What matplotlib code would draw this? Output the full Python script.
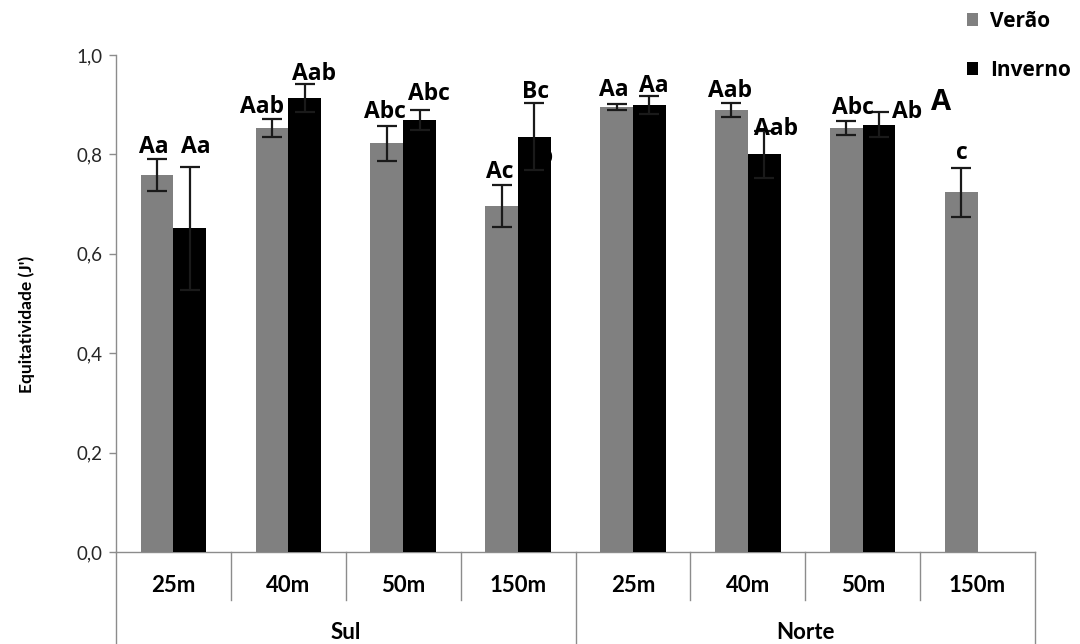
import numpy as np
import matplotlib
matplotlib.use("Agg")
import matplotlib.pyplot as plt

# ----------------------------------------------------------
# Equitatividade (J') por profundidade, regiao e estacao
# ----------------------------------------------------------

depths = ["25m", "40m", "50m", "150m", "25m", "40m", "50m", "150m"]
regions = ["Sul", "Norte"]

verao = [0.759, 0.854, 0.822, 0.696, 0.895, 0.889, 0.854, 0.724]
verao_err = [0.032, 0.018, 0.035, 0.043, 0.006, 0.014, 0.014, 0.049]

# Norte 150m has no winter sample
inverno = [0.651, 0.913, 0.869, 0.836, 0.900, 0.800, 0.860]
inverno_err = [0.123, 0.028, 0.020, 0.068, 0.018, 0.048, 0.025]

verao_letters = ["Aa", "Aab", "Abc", "Ac", "Aa", "Aab", "Abc", "c"]
inverno_letters = ["Aa", "Aab", "Abc", "Bc", "Aa", "Aab", "Ab"]

# nudges (pixels) so the letters do not collide
verao_dx = [-3, -10, -2, -2, -3, -1, 7, 1]
verao_dy = [6, 6, 8, 7, 8, 6, 7, 9]
inverno_dx = [6, 9, 9, 1, 5, 12, 28]
inverno_dy = [14, 4, 10, 5, 4, -4, -6]

GRAY = "#808080"
AXIS = "#8c8c8c"
width = 0.285

fig = plt.figure(figsize=(10.8, 6.44), dpi=100)
ax = fig.add_axes([116 / 1080, 1 - 552 / 644, (1035 - 116) / 1080, 497 / 644])

x = np.arange(len(depths))
xi = np.arange(len(inverno))

b1 = ax.bar(x - width / 2, verao, width, color=GRAY, label="Verão", zorder=3)
b2 = ax.bar(xi + width / 2, inverno, width, color="black", label="Inverno", zorder=3)

err_kw = dict(fmt="none", ecolor="#1a1a1a", elinewidth=1.6, capsize=7.5, capthick=1.6, zorder=4)
ax.errorbar(x - width / 2, verao, yerr=verao_err, **err_kw)
ax.errorbar(xi + width / 2, inverno, yerr=inverno_err, **err_kw)

# significance letters
ann_font = dict(family="Open Sans", weight="bold", size=16.5)
for i in range(len(verao)):
    ax.annotate(verao_letters[i], (x[i] - width / 2, verao[i] + verao_err[i]),
                xytext=(verao_dx[i], verao_dy[i]), textcoords="offset pixels",
                ha="center", va="baseline", zorder=5, annotation_clip=False, **ann_font)
for i in range(len(inverno)):
    ax.annotate(inverno_letters[i], (xi[i] + width / 2, inverno[i] + inverno_err[i]),
                xytext=(inverno_dx[i], inverno_dy[i]), textcoords="offset pixels",
                ha="center", va="baseline", zorder=5, annotation_clip=False, **ann_font)

# leftover labels from the original layout
ax.text(3.308, 0.783, "Ab", ha="right", va="baseline", zorder=1, **ann_font)
ax.text(6.68, 0.889, "A", ha="center", va="baseline", family="Open Sans",
        weight="bold", size=21, zorder=5)

# axes styling
ax.set_xlim(-0.5, len(depths) - 0.5)
ax.set_ylim(0, 1.0)
ax.set_yticks(np.arange(0, 1.01, 0.2))
ax.set_yticklabels([f"{v:.1f}".replace(".", ",") for v in np.arange(0, 1.01, 0.2)],
                   family="Lato", size=13.5, color="#262626")
ax.tick_params(axis="y", direction="out", length=5, width=1, color=AXIS, pad=5)
ax.tick_params(axis="x", length=0, labelbottom=False)
for s in ["top", "right"]:
    ax.spines[s].set_visible(False)
for s in ["left", "bottom"]:
    ax.spines[s].set_color(AXIS)
    ax.spines[s].set_linewidth(1)

ax.set_ylabel("Equitatividade (J')", family="Lato", weight="bold", size=12.5)
ax.yaxis.set_label_coords(-(116 - 35) / 919, 0.457)

# two-level category axis
tr = ax.get_xaxis_transform()
for b in np.arange(-0.5, len(depths), 1.0):
    outer = b in (-0.5, 3.5, len(depths) - 0.5)
    ax.plot([b, b], [0, -0.19 if outer else -0.0966], transform=tr,
            color=AXIS, lw=1, clip_on=False, zorder=2)
for i, d in enumerate(depths):
    ax.text(x[i], -0.068, d, transform=tr, ha="center", va="center",
            family="Lato", weight="bold", size=16)
for k, r in enumerate(regions):
    ax.text(1.5 + 4 * k, -0.162, r, transform=tr, ha="center", va="center",
            family="Lato", weight="bold", size=16)

fig.legend(handles=[b1, b2], loc="upper left", bbox_to_anchor=(967 / 1080, 1 - 11 / 644),
           frameon=False, handlelength=0.55, handleheight=0.6, handletextpad=0.55,
           labelspacing=1.35, borderpad=0, borderaxespad=0,
           prop=dict(family="Open Sans", weight="bold", size=15))

fig.savefig("out.png", dpi=100)
